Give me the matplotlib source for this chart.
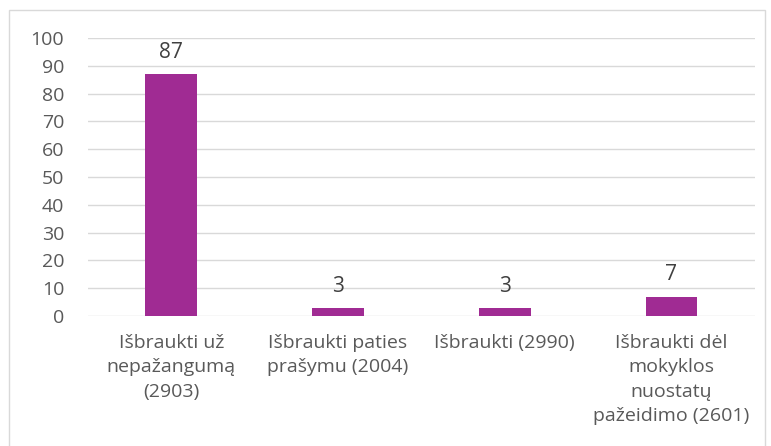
import matplotlib.pyplot as plt
from matplotlib.patches import Rectangle
import numpy as np

categories = ['Išbraukti už\nnepažangumą\n(2903)',
              'Išbraukti paties\nprašymu (2004)',
              'Išbraukti (2990)',
              'Išbraukti dėl\nmokyklos\nnuostatų\npažeidimo (2601)']
values = [87, 3, 3, 7]
yticks = list(range(0, 101, 10))

BAR_COLOR = '#A02B93'
TEXT_COLOR = '#595959'
GRID_COLOR = '#D9D9D9'
FONT_SIZE = 14

plt.rcParams['font.family'] = ['Open Sans', 'DejaVu Sans']

fig = plt.figure(figsize=(7.71, 4.46), dpi=100)
ax = fig.add_axes([0.114, 0.2915, 0.865, 0.6235])

x = np.arange(len(categories))
ax.bar(x, values, width=0.31, color=BAR_COLOR, zorder=3)
for xi, v in zip(x, values):
    ax.text(xi, v + 4, str(v), ha='center', va='bottom', fontsize=15, color='#404040')

ax.set_xlim(-0.5, 3.5)
ax.set_ylim(0, 100)
ax.set_yticks(yticks)
ax.set_yticklabels([str(t) for t in yticks], fontsize=FONT_SIZE, color=TEXT_COLOR)
ax.set_xticks(x)
ax.set_xticklabels(categories, fontsize=FONT_SIZE, color=TEXT_COLOR, linespacing=1.45)
ax.tick_params(axis='both', length=0)
ax.tick_params(axis='x', pad=13)
ax.tick_params(axis='y', pad=17)
ax.grid(axis='y', color=GRID_COLOR, linewidth=1, zorder=0)
for s in ax.spines.values():
    s.set_visible(False)

fig.patches.append(Rectangle((9 / 771, -0.1), (765 - 9) / 771, 1.1 - 10 / 446,
                             transform=fig.transFigure, fill=False,
                             edgecolor='#D9D9D9', linewidth=1))

fig.savefig('out.png', dpi=100)
